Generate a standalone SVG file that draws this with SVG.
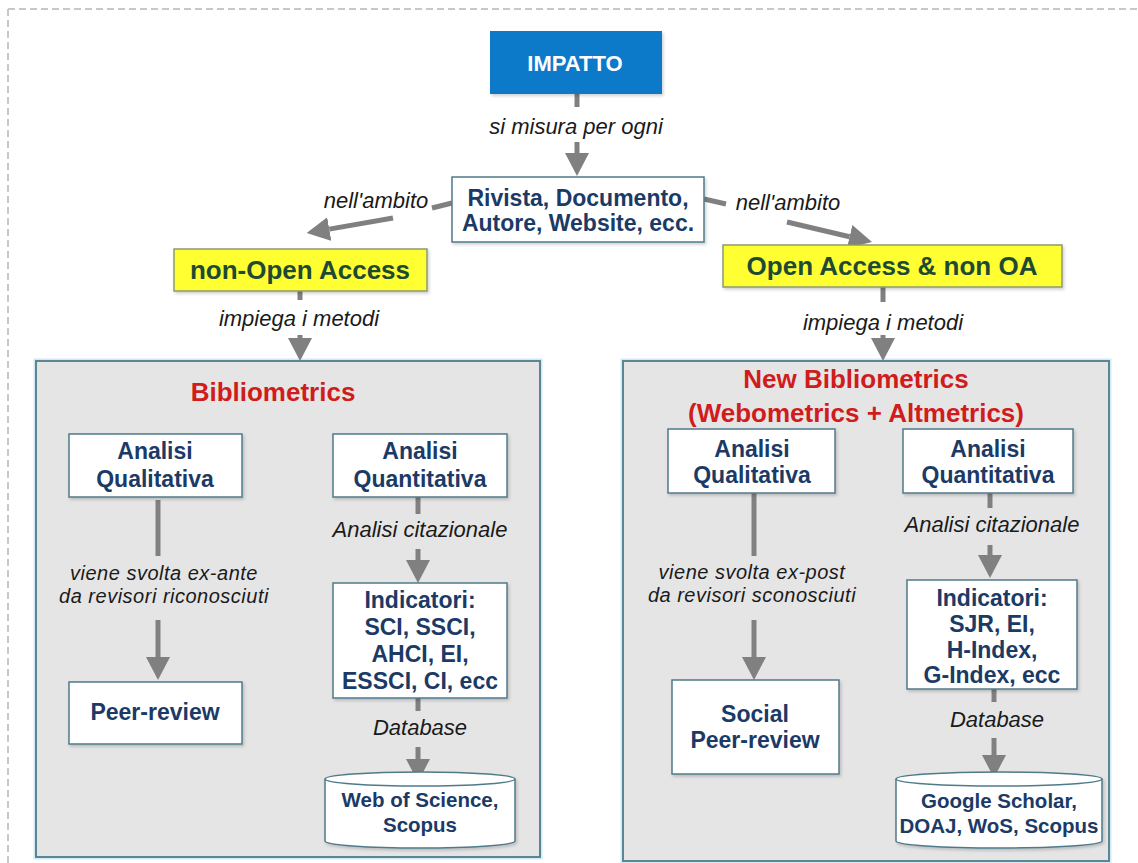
<svg xmlns="http://www.w3.org/2000/svg" width="1138" height="863" viewBox="0 0 1138 863">
<defs>
<style>
text{font-family:"Liberation Sans",Arial,sans-serif}
.nt{font-weight:bold;font-size:23px;fill:#1b3a66;text-anchor:middle}
.ct{font-weight:bold;font-size:20.5px;fill:#1b3a66;text-anchor:middle}
.lb{font-style:italic;font-size:22px;fill:#1a1a1a;text-anchor:middle}
.lb2{font-style:italic;font-size:20px;fill:#1a1a1a;text-anchor:middle;letter-spacing:0.5px}
.yt{font-weight:bold;font-size:26px;fill:#1e4a33;text-anchor:middle}
.rt{font-weight:bold;font-size:26px;fill:#d01c1c;text-anchor:middle}
.box{fill:#ffffff;stroke:#4f7a8a;stroke-width:1.5;filter:url(#sh)}
.ybox{fill:#ffff33;stroke:#8a9a70;stroke-width:1.5;filter:url(#sh)}
.panel{fill:#e5e5e5;stroke:#5b8696;stroke-width:2}
.glow{fill:none;stroke:#d4eaf1;stroke-width:5}
.cn{stroke:#808080;stroke-width:5;fill:none}
.ar{stroke:#808080;stroke-width:5;fill:none;marker-end:url(#ah)}
</style>
<marker id="ah" markerUnits="userSpaceOnUse" markerWidth="23" markerHeight="24" refX="0" refY="12" orient="auto" viewBox="0 0 23 24">
<path d="M0,0 L23,12 L0,24 Z" fill="#808080"/>
</marker>
<filter id="sh" x="-10%" y="-10%" width="125%" height="135%">
<feDropShadow dx="1.5" dy="2" stdDeviation="1.5" flood-color="#000" flood-opacity="0.18"/>
</filter>
</defs>

<g id="frame">
<line x1="8" y1="9" x2="1138" y2="9" stroke="#c8c8c8" stroke-width="2" stroke-dasharray="7,4"/>
<line x1="8" y1="9" x2="8" y2="863" stroke="#c8c8c8" stroke-width="2" stroke-dasharray="7,4"/>
</g>

<g id="panel-bibliometrics">
<rect class="glow" x="36" y="361" width="504" height="496"/>
<rect class="panel" x="36" y="361" width="504" height="496"/>
<text class="rt" x="273" y="401">Bibliometrics</text>
</g>
<g id="panel-new-bibliometrics">
<rect class="glow" x="623" y="361" width="486" height="500"/>
<rect class="panel" x="623" y="361" width="486" height="500"/>
<text class="rt" x="856" y="388">New Bibliometrics</text>
<text class="rt" x="856" y="422">(Webometrics + Altmetrics)</text>
</g>

<g id="connectors">
<line class="cn" x1="577" y1="94" x2="577" y2="107"/>
<text class="lb" x="576" y="134">si misura per ogni</text>
<line class="ar" x1="577" y1="142" x2="577" y2="153"/>

<line class="cn" x1="452" y1="203" x2="432" y2="208"/>
<text class="lb" x="376" y="208">nell'ambito</text>
<line class="ar" x1="393" y1="218" x2="329.3" y2="229.1"/>

<line class="cn" x1="704" y1="199" x2="726" y2="204"/>
<text class="lb" x="788" y="210">nell'ambito</text>
<line class="ar" x1="787" y1="222" x2="849.6" y2="236.7"/>

<line class="cn" x1="300" y1="291" x2="300" y2="300"/>
<text class="lb" x="299" y="326">impiega i metodi</text>
<line class="ar" x1="300" y1="335" x2="300" y2="338"/>

<line class="cn" x1="883" y1="287" x2="883" y2="302"/>
<text class="lb" x="883" y="330">impiega i metodi</text>
<line class="ar" x1="883" y1="335" x2="883" y2="338"/>

<line class="cn" x1="158" y1="500" x2="158" y2="556"/>
<text class="lb2" x="164" y="580">viene svolta ex-ante</text>
<text class="lb2" x="164" y="603">da revisori riconosciuti</text>
<line class="ar" x1="158" y1="620" x2="158" y2="657"/>

<line class="cn" x1="418" y1="497" x2="418" y2="514"/>
<text class="lb" x="420" y="537">Analisi citazionale</text>
<line class="ar" x1="418" y1="549" x2="418" y2="560"/>

<line class="cn" x1="418" y1="698" x2="418" y2="711"/>
<text class="lb" x="420" y="735">Database</text>
<line class="ar" x1="418" y1="747" x2="418" y2="759"/>

<line class="cn" x1="754" y1="493" x2="754" y2="556"/>
<text class="lb2" x="752" y="579">viene svolta ex-post</text>
<text class="lb2" x="752" y="602">da revisori sconosciuti</text>
<line class="ar" x1="754" y1="620" x2="754" y2="657"/>

<line class="cn" x1="990" y1="493" x2="990" y2="508"/>
<text class="lb" x="992" y="532">Analisi citazionale</text>
<line class="ar" x1="990" y1="545" x2="990" y2="555"/>

<line class="cn" x1="994" y1="689" x2="994" y2="702"/>
<text class="lb" x="997" y="727">Database</text>
<line class="ar" x1="994" y1="738" x2="994" y2="755"/>
</g>

<g id="impatto">
<rect x="490" y="31" width="172" height="63" fill="#0e79c9" filter="url(#sh)"/>
<text x="575" y="71" font-weight="bold" font-size="22px" fill="#ffffff" text-anchor="middle">IMPATTO</text>
</g>

<g id="rivista">
<rect class="box" x="452" y="177" width="252" height="65"/>
<text class="nt" x="578" y="206" font-size="24px">Rivista, Documento,</text>
<text class="nt" x="578" y="231" font-size="24px">Autore, Website, ecc.</text>
</g>

<g id="non-open-access">
<rect class="ybox" x="174" y="249" width="253" height="42"/>
<text class="yt" x="300" y="279">non-Open Access</text>
</g>

<g id="open-access">
<rect class="ybox" x="723" y="245" width="339" height="42"/>
<text class="yt" x="892" y="275">Open Access &amp; non OA</text>
</g>

<g id="qual-left">
<rect class="box" x="69" y="434" width="173" height="63"/>
<text class="nt" x="155" y="459">Analisi</text>
<text class="nt" x="155" y="487">Qualitativa</text>
</g>

<g id="quant-left">
<rect class="box" x="333" y="434" width="174" height="63"/>
<text class="nt" x="420" y="459">Analisi</text>
<text class="nt" x="420" y="487">Quantitativa</text>
</g>

<g id="peer-review">
<rect class="box" x="69" y="682" width="173" height="62"/>
<text class="nt" x="155" y="720">Peer-review</text>
</g>

<g id="indicatori-left">
<rect class="box" x="333" y="583" width="174" height="115"/>
<text class="nt" x="420" y="608">Indicatori:</text>
<text class="nt" x="420" y="635">SCI, SSCI,</text>
<text class="nt" x="420" y="662">AHCI, EI,</text>
<text class="nt" x="420" y="689">ESSCI, CI, ecc</text>
</g>

<g id="db-left">
<path d="M325,779 A95,7 0 0 1 515,779 L515,841 A95,7 0 0 1 325,841 Z" fill="#ffffff" stroke="#4f7a8a" stroke-width="1.5" filter="url(#sh)"/>
<path d="M325,779 A95,7 0 0 0 515,779" fill="none" stroke="#4f7a8a" stroke-width="1.5"/>
<text class="ct" x="420" y="807">Web of Science,</text>
<text class="ct" x="420" y="832">Scopus</text>
</g>

<g id="qual-right">
<rect class="box" x="668" y="429" width="167" height="64"/>
<text class="nt" x="752" y="457">Analisi</text>
<text class="nt" x="752" y="483">Qualitativa</text>
</g>

<g id="quant-right">
<rect class="box" x="903" y="429" width="170" height="64"/>
<text class="nt" x="988" y="457">Analisi</text>
<text class="nt" x="988" y="483">Quantitativa</text>
</g>

<g id="social-peer-review">
<rect class="box" x="672" y="680" width="167" height="94"/>
<text class="nt" x="755" y="722">Social</text>
<text class="nt" x="755" y="748">Peer-review</text>
</g>

<g id="indicatori-right">
<rect class="box" x="907" y="580" width="170" height="109"/>
<text class="nt" x="992" y="606">Indicatori:</text>
<text class="nt" x="992" y="632">SJR, EI,</text>
<text class="nt" x="992" y="658">H-Index,</text>
<text class="nt" x="992" y="683">G-Index, ecc</text>
</g>

<g id="db-right">
<path d="M896,779 A103,7 0 0 1 1102,779 L1102,841 A103,7 0 0 1 896,841 Z" fill="#ffffff" stroke="#4f7a8a" stroke-width="1.5" filter="url(#sh)"/>
<path d="M896,779 A103,7 0 0 0 1102,779" fill="none" stroke="#4f7a8a" stroke-width="1.5"/>
<text class="ct" x="999" y="808">Google Scholar,</text>
<text class="ct" x="999" y="833">DOAJ, WoS, Scopus</text>
</g>
</svg>
